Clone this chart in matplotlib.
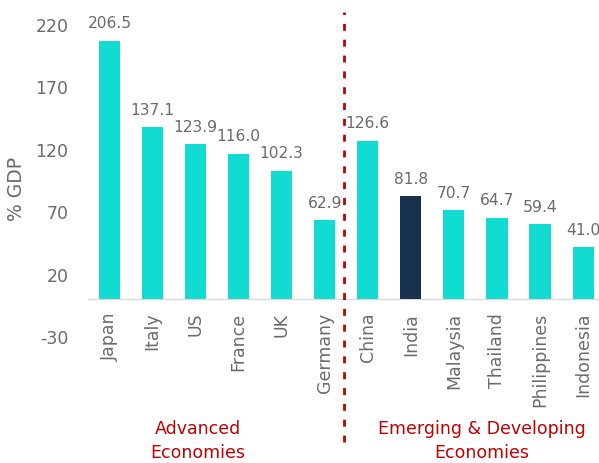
import matplotlib
matplotlib.use("Agg")
import matplotlib.pyplot as plt
import numpy as np

countries = ["Japan", "Italy", "US", "France", "UK", "Germany",
             "China", "India", "Malaysia", "Thailand", "Philippines", "Indonesia"]
debt_pct_gdp = [206.5, 137.1, 123.9, 116.0, 102.3, 62.9,
                126.6, 81.8, 70.7, 64.7, 59.4, 41.0]
highlight = "India"
y_ticks = [-30, 20, 70, 120, 170, 220]
group_labels = ["Advanced\nEconomies", "Emerging & Developing\nEconomies"]

TEAL = "#12dcd2"
NAVY = "#17324f"
GREY_TXT = "#6b6b6b"
RED = "#c00000"

plt.rcParams["font.family"] = ["DejaVu Sans"]
plt.rcParams["axes.unicode_minus"] = False

fig = plt.figure(figsize=(5.99, 4.64), dpi=100)
W, H = 599, 464
ax = fig.add_axes([88 / W, (H - 337) / H, 511 / W, 312 / H])

x = np.arange(len(countries))
colors = [NAVY if c == highlight else TEAL for c in countries]
ax.bar(x, debt_pct_gdp, width=0.49, color=colors, zorder=2)

# value labels above each bar
for xi, v in zip(x, debt_pct_gdp):
    ax.annotate(f"{v:.1f}", (xi, v), xytext=(0, 7.5), textcoords="offset points",
                ha="center", va="bottom", fontsize=11.2, color=GREY_TXT)

# category names hang below the zero line
for xi, name in zip(x, countries):
    ax.annotate(name, (xi, 0), xytext=(0, -9.5), textcoords="offset points",
                rotation=90, ha="center", va="top", fontsize=12.5,
                color=GREY_TXT, annotation_clip=False)

ax.set_ylim(-30, 220)
ax.set_xlim(-0.5, 11.37)
ax.set_yticks(y_ticks)
ax.tick_params(axis="y", length=0, pad=14, labelsize=12.5, labelcolor=GREY_TXT)
ax.set_xticks([])

for s in ["top", "right", "left", "bottom"]:
    ax.spines[s].set_visible(False)
ax.axhline(0, color="#d9d9d9", lw=1.0, zorder=1)

fig.text(17 / W, 1 - 188.5 / H, "% GDP", rotation=90, ha="center", va="center",
         fontsize=13.5, color=GREY_TXT)

# divider between the two country groups
ax.axvline(5.44, ymin=(337 - 443) / 312, ymax=(337 - 13) / 312, color=RED,
           lw=2.0, ls=(0, (2.5, 3.2)), clip_on=False, zorder=3)

fig.text(198 / W, 1 - 441 / H, group_labels[0], ha="center", va="center",
         fontsize=12.5, color=RED, linespacing=1.45)
fig.text(481.5 / W, 1 - 441 / H, group_labels[1], ha="center", va="center",
         fontsize=12.5, color=RED, linespacing=1.45)

fig.savefig("out.png", dpi=100)
